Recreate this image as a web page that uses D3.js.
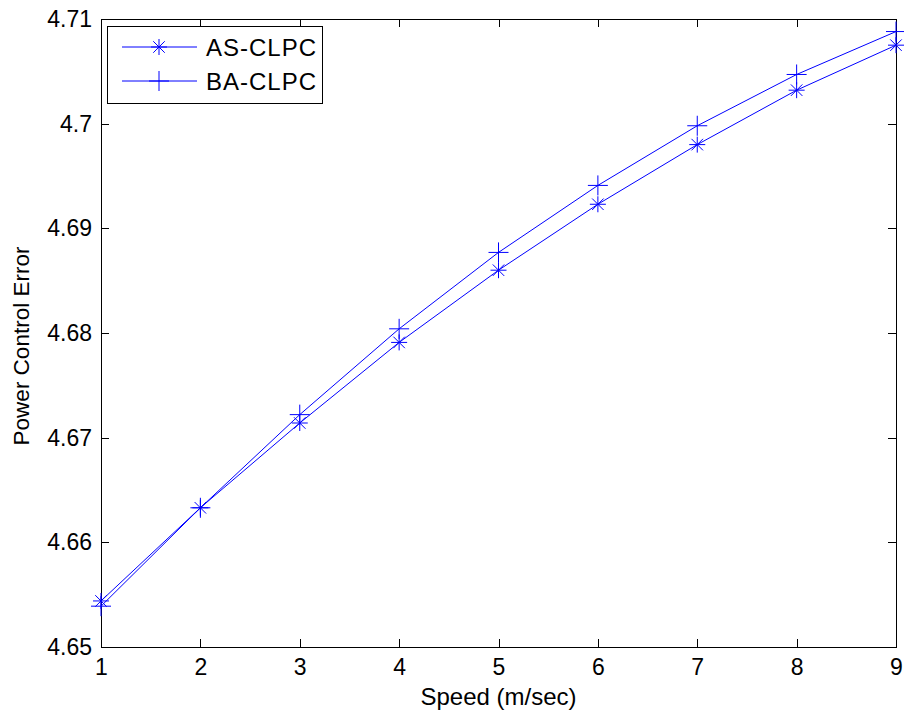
<!DOCTYPE html>
<html>
<head>
<meta charset="utf-8">
<script src="https://cdn.jsdelivr.net/npm/d3@7"></script>
<style>
  body { margin: 0; background: #fff; }
  text { font-family: "Liberation Sans", Arial, sans-serif; fill: #000; }
</style>
</head>
<body>
<div id="chart"></div>
<script>
// data
const speeds = [1, 2, 3, 4, 5, 6, 7, 8, 9];
const asClpc = [4.6544, 4.6633, 4.6714, 4.6791, 4.6860, 4.6923, 4.6980, 4.7032, 4.7075];
const baClpc = [4.6539, 4.6633, 4.6722, 4.6804, 4.6877, 4.6941, 4.6998, 4.7047, 4.7088];
const yTicks = [4.65, 4.66, 4.67, 4.68, 4.69, 4.7, 4.71];
const seriesNames = ["AS-CLPC", "BA-CLPC"];

const W = 904, H = 711;
const margin = {top: 19, right: 8, bottom: 64, left: 101};
const width = W - margin.left - margin.right,
      height = H - margin.top - margin.bottom;

const svg = d3.select("#chart").append("svg")
    .attr("width", W).attr("height", H);
const g = svg.append("g")
    .attr("transform", `translate(${margin.left}, ${margin.top})`);

const x = d3.scaleLinear().domain([1, 9]).range([0, width]);
const y = d3.scaleLinear().domain([4.65, 4.71]).range([height, 0]);

const fs = 23;

// axes, ticks pointing inward, mirrored on top and right
g.append("g")
    .attr("transform", `translate(0, ${height})`)
    .call(d3.axisBottom(x).tickValues(speeds).tickSizeInner(-8).tickSizeOuter(0).tickPadding(12))
    .call(a => a.selectAll("text").style("font-size", fs + "px"));
g.append("g")
    .call(d3.axisTop(x).tickValues(speeds).tickSizeInner(-8).tickSizeOuter(0).tickFormat(""));
g.append("g")
    .call(d3.axisLeft(y).tickValues(yTicks).tickSizeInner(-8).tickSizeOuter(0).tickPadding(9)
      .tickFormat(d3.format("~g")))
    .call(a => a.selectAll("text").style("font-size", fs + "px"));
g.append("g")
    .attr("transform", `translate(${width}, 0)`)
    .call(d3.axisRight(y).tickValues(yTicks).tickSizeInner(-8).tickSizeOuter(0).tickFormat(""));
g.selectAll(".domain, .tick line").attr("stroke", "#000").attr("shape-rendering", "crispEdges");

// axis titles
svg.append("text")
    .attr("x", margin.left + width / 2).attr("y", 705)
    .attr("text-anchor", "middle").style("font-size", "24px")
    .text("Speed (m/sec)");
svg.append("text")
    .attr("transform", `translate(29, 346) rotate(-90)`)
    .attr("text-anchor", "middle").style("font-size", "22.5px")
    .text("Power Control Error");

const blue = "#0000ff";
const line = d3.line().x((d, i) => x(speeds[i])).y(d => y(d));

function star(sel, r) {
  const r2 = r * 0.72;
  sel.append("path")
    .attr("d", `M${-r},0H${r}M0,${-r}V${r}M${-r2},${-r2}L${r2},${r2}M${-r2},${r2}L${r2},${-r2}`)
    .attr("stroke", blue).attr("fill", "none").attr("stroke-width", 1);
}
function plus(sel, r) {
  sel.append("path")
    .attr("d", `M${-r},0H${r}M0,${-r}V${r}`)
    .attr("stroke", blue).attr("fill", "none").attr("stroke-width", 1);
}

const plotArea = g.append("g");
[asClpc, baClpc].forEach((vals, k) => {
  plotArea.append("path").datum(vals)
    .attr("d", line).attr("fill", "none")
    .attr("stroke", blue).attr("stroke-width", 1);
  plotArea.selectAll(".m" + k).data(vals).join("g")
    .attr("class", "m" + k)
    .attr("transform", (d, i) => `translate(${x(speeds[i])}, ${y(d)})`)
    .each(function() { k === 0 ? star(d3.select(this), 8) : plus(d3.select(this), 10); });
});

// legend
const lg = svg.append("g").attr("transform", "translate(107, 26)");
lg.append("rect").attr("width", 215).attr("height", 77)
    .attr("fill", "#fff").attr("stroke", "#000").attr("shape-rendering", "crispEdges");
seriesNames.forEach((name, k) => {
  const yy = 21 + k * 34;
  lg.append("line").attr("x1", 15).attr("x2", 90).attr("y1", yy).attr("y2", yy)
    .attr("stroke", blue).attr("stroke-width", 1);
  const m = lg.append("g").attr("transform", `translate(52, ${yy})`);
  k === 0 ? star(m, 8) : plus(m, 10);
  lg.append("text").attr("x", 99).attr("y", yy).attr("dy", "0.36em")
    .style("font-size", "24px").style("letter-spacing", "1px").text(name);
});
</script>
</body>
</html>
